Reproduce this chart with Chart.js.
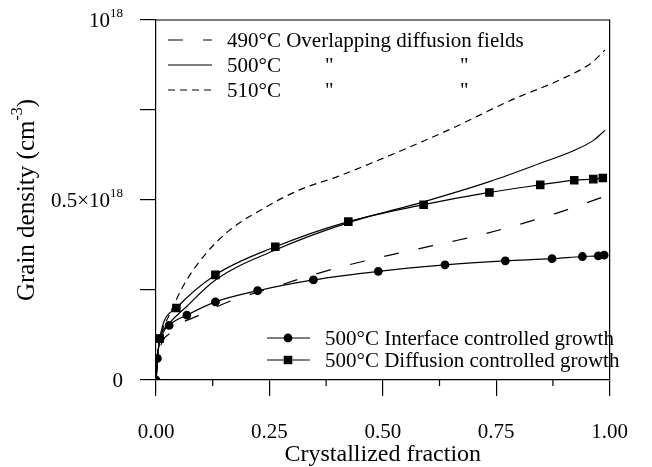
<!DOCTYPE html>
<html>
<head>
<meta charset="utf-8">
<script src="https://cdn.jsdelivr.net/npm/chart.js@4.4.0/dist/chart.umd.min.js"></script>
<style>
  html, body { margin: 0; padding: 0; background: #fff; }
</style>
</head>
<body>
<canvas id="grainChart" width="652" height="467"></canvas>
<script>
// values in units of 10^18 cm^-3
const x490 = [0, 0.006, 0.030, 0.095, 0.170, 0.250, 0.330, 0.410, 0.566, 0.646, 0.725, 0.882, 0.987];
const y490 = [0, 0.070, 0.130, 0.180, 0.222, 0.254, 0.286, 0.315, 0.361, 0.383, 0.406, 0.463, 0.509];

const x500 = [0, 0.004, 0.012, 0.030, 0.064, 0.131, 0.263, 0.424, 0.590, 0.735, 0.847, 0.924, 0.966, 0.990];
const y500 = [0, 0.075, 0.120, 0.158, 0.200, 0.278, 0.361, 0.437, 0.495, 0.551, 0.602, 0.639, 0.667, 0.694];

const x510 = [0, 0.004, 0.012, 0.029, 0.064, 0.106, 0.161, 0.239, 0.316, 0.400, 0.470, 0.644, 0.784, 0.889, 0.959, 0.990];
const y510 = [0, 0.080, 0.130, 0.180, 0.270, 0.345, 0.415, 0.478, 0.528, 0.565, 0.600, 0.694, 0.778, 0.833, 0.880, 0.917];

const xInterface = [0, 0.003, 0.009, 0.029, 0.068, 0.131, 0.224, 0.347, 0.490, 0.637, 0.770, 0.873, 0.940, 0.975, 0.988];
const yInterface = [0, 0.060, 0.115, 0.152, 0.180, 0.217, 0.248, 0.278, 0.302, 0.320, 0.331, 0.337, 0.343, 0.345, 0.347];

const xDiffusion = [0, 0.008, 0.045, 0.131, 0.263, 0.424, 0.590, 0.735, 0.847, 0.922, 0.964, 0.985];
const yDiffusion = [0, 0.115, 0.200, 0.292, 0.370, 0.440, 0.487, 0.521, 0.542, 0.555, 0.558, 0.561];

const xTickLabels = ['0.00', '0.25', '0.50', '0.75', '1.00'];
const xMinorTicks = [0.125, 0.375, 0.625, 0.875];
const yTickLabels = [
    { value: 0, base: '0', sup: '' },
    { value: 0.5, base: '0.5\u00d710', sup: '18' },
    { value: 1, base: '10', sup: '18' }
];

const topLegend = ['490\u00b0C Overlapping diffusion fields', '500\u00b0C', '510\u00b0C'];
const bottomLegend = ['500\u00b0C Interface controlled growth', '500\u00b0C Diffusion controlled growth'];

const SERIF = '"Liberation Serif", "Times New Roman", serif';

const pts = (xs, ys) => xs.map((x, i) => ({ x: x, y: ys[i] }));

const lineSet = (label, xs, ys, dash) => ({
    label: label,
    data: pts(xs, ys),
    borderColor: '#000',
    borderWidth: 1.2,
    borderDash: dash,
    pointRadius: 0,
    fill: false,
    cubicInterpolationMode: 'monotone'
});

const markSet = (label, xs, ys, style, r) => ({
    label: label,
    data: pts(xs, ys),
    borderColor: '#000',
    backgroundColor: '#000',
    borderWidth: 1.2,
    pointStyle: style,
    pointRadius: ctx => (style === 'rect' && ctx.dataIndex === 0) ? 0 : r,
    fill: false,
    cubicInterpolationMode: 'monotone'
});

const datasets = [
    lineSet(topLegend[0], x490, y490, [15, 20]),
    lineSet(topLegend[1], x500, y500, []),
    lineSet(topLegend[2], x510, y510, [7, 5]),
    markSet(bottomLegend[0], xInterface, yInterface, 'circle', 3.8),
    markSet(bottomLegend[1], xDiffusion, yDiffusion, 'rect', 5.2)
];

// frame, minor ticks, superscript labels and the two legend boxes
const extras = {
    id: 'extras',
    afterDraw(chart) {
        const ctx = chart.ctx;
        const area = chart.chartArea;
        const xs = chart.scales.x;
        const ys = chart.scales.y;
        ctx.save();
        ctx.strokeStyle = '#000';
        ctx.fillStyle = '#000';
        ctx.lineWidth = 1.2;

        ctx.beginPath();
        ctx.moveTo(area.left, area.top);
        ctx.lineTo(area.right, area.top);
        ctx.lineTo(area.right, area.bottom);
        ctx.stroke();

        xMinorTicks.forEach(v => {
            const px = xs.getPixelForValue(v);
            ctx.beginPath();
            ctx.moveTo(px, area.bottom);
            ctx.lineTo(px, area.bottom + 6);
            ctx.stroke();
        });

        // y tick labels
        ctx.textBaseline = 'middle';
        yTickLabels.forEach(t => {
            const py = ys.getPixelForValue(t.value);
            const right = area.left - 33;
            ctx.font = '13px ' + SERIF;
            const ws = t.sup ? ctx.measureText(t.sup).width : 0;
            ctx.textAlign = 'left';
            if (t.sup) ctx.fillText(t.sup, right - ws, py - 6);
            ctx.font = '21px ' + SERIF;
            ctx.textAlign = 'right';
            ctx.fillText(t.base, right - ws, py + 1);
        });

        // y title
        ctx.save();
        ctx.translate(27, (area.top + area.bottom) / 2);
        ctx.rotate(-Math.PI / 2);
        ctx.font = '25px ' + SERIF;
        const a = 'Grain density (cm', c = ')';
        const wa = ctx.measureText(a).width, wc = ctx.measureText(c).width;
        ctx.font = '16px ' + SERIF;
        const wb = ctx.measureText('-3').width;
        let x0 = -(wa + wb + wc) / 2;
        ctx.textAlign = 'left';
        ctx.font = '25px ' + SERIF;
        ctx.fillText(a, x0, 0);
        ctx.font = '16px ' + SERIF;
        ctx.fillText('-3', x0 + wa, -9);
        ctx.font = '25px ' + SERIF;
        ctx.fillText(c, x0 + wa + wb, 0);
        ctx.restore();

        // top legend
        ctx.font = '21px ' + SERIF;
        ctx.textAlign = 'left';
        const rowsTop = [40, 65, 90];
        [0, 1, 2].forEach(i => {
            const ds = chart.data.datasets[i];
            const y = rowsTop[i];
            ctx.setLineDash(ds.borderDash);
            ctx.beginPath();
            ctx.moveTo(168, y);
            ctx.lineTo(212, y);
            ctx.stroke();
            ctx.setLineDash([]);
            ctx.fillText(topLegend[i], 227, y + 1);
            if (i > 0) {
                ctx.fillText('"', 325, y + 1);
                ctx.fillText('"', 460, y + 1);
            }
        });

        // bottom legend
        const rowsBottom = [338, 360];
        [3, 4].forEach((di, k) => {
            const ds = chart.data.datasets[di];
            const y = rowsBottom[k];
            ctx.beginPath();
            ctx.moveTo(267, y);
            ctx.lineTo(310, y);
            ctx.stroke();
            Chart.helpers.drawPoint(ctx, { pointStyle: ds.pointStyle, radius: di === 3 ? 3.8 : 5.2, rotation: 0, borderWidth: 1 }, 288, y);
            ctx.fill();
            ctx.fillText(bottomLegend[k], 325, y + 1);
        });
        ctx.restore();
    }
};

new Chart(document.getElementById('grainChart').getContext('2d'), {
    type: 'line',
    data: { datasets: datasets },
    options: {
        responsive: false,
        animation: false,
        devicePixelRatio: 1,
        layout: { padding: { top: 20, right: 19, left: 0, bottom: 0 } },
        plugins: { legend: { display: false }, tooltip: { enabled: false } },
        scales: {
            x: {
                type: 'linear',
                min: 0,
                max: 1,
                border: { color: '#000', width: 1.2 },
                grid: { drawOnChartArea: false, tickLength: 16, color: '#000', lineWidth: 1.2 },
                ticks: {
                    stepSize: 0.25,
                    maxRotation: 0,
                    padding: 24,
                    color: '#000',
                    font: { family: SERIF, size: 21 },
                    callback: (v, i) => xTickLabels[i]
                },
                title: {
                    display: true,
                    text: 'Crystallized fraction',
                    color: '#000',
                    font: { family: SERIF, size: 24, lineHeight: 1 },
                    padding: { top: 0, bottom: 0 }
                },
                afterFit: s => { s.height = 87; }
            },
            y: {
                type: 'linear',
                min: 0,
                max: 1,
                border: { color: '#000', width: 1.2 },
                grid: { drawOnChartArea: false, tickLength: 16, color: '#000', lineWidth: 1.2 },
                ticks: { stepSize: 0.25, callback: () => '' },
                afterFit: s => { s.width = 156; }
            }
        }
    },
    plugins: [extras]
});
</script>
</body>
</html>
